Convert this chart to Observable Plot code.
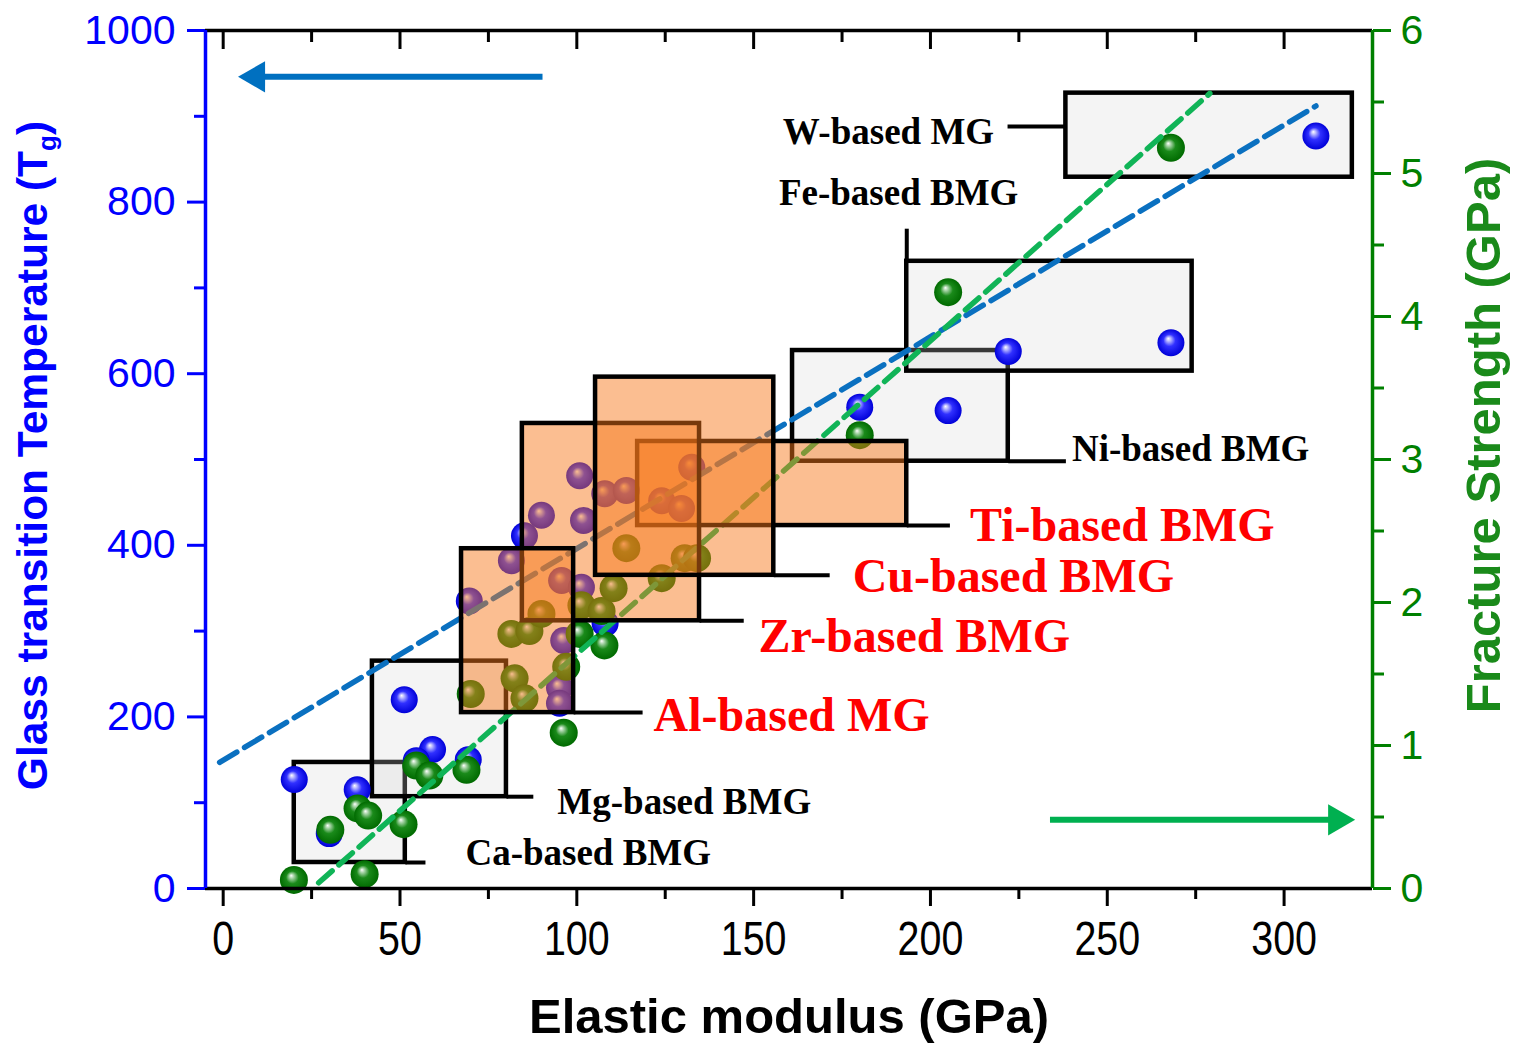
<!DOCTYPE html>
<html><head><meta charset="utf-8">
<script src="https://cdn.jsdelivr.net/npm/d3@7"></script>
<script src="https://cdn.jsdelivr.net/npm/@observablehq/plot@0.6"></script>
<style>body{margin:0;background:#fff}</style>
</head><body><div id="chart"></div>
<script>
// ---- data ----
const blueE  = [20.1, 37.9, 30.0, 51.2, 59.2, 54.6, 69.3, 69.6, 81.5, 85.2, 90.0, 100.8, 101.9, 107.9, 114.0, 132.5, 124.0, 129.6, 95.7, 101.3, 108.0, 96.3, 95.1, 95.1, 180, 205, 222, 268, 309];
const blueTg = [127, 115, 64, 220, 162, 149, 150, 335, 382, 411, 435, 481, 429, 460, 464, 491, 452, 443, 359, 351, 309, 289, 234, 216, 561, 557, 626, 636, 877];
const greenE  = [20, 40, 30.3, 38, 41, 51, 54.6, 58.3, 68.8, 70, 81.5, 86.6, 90, 82.4, 85.2, 97, 96.3, 100.8, 101.3, 107, 107.8, 110.4, 114, 124, 130.5, 134, 180, 205, 268];
const greenFS = [0.06, 0.10, 0.41, 0.56, 0.51, 0.45, 0.86, 0.79, 0.83, 1.36, 1.78, 1.80, 1.92, 1.47, 1.33, 1.55, 1.09, 1.78, 1.98, 1.94, 1.70, 2.10, 2.38, 2.17, 2.31, 2.31, 3.17, 4.17, 5.18];
const blueTrendE = [-1, 309], blueTrendTg = [147, 912];
const greenTrendE = [27, 279], greenTrendFS = [0.04, 5.56];

const greyBoxes = [
  {name: "Ca", x1: 20.1, x2: 51.5, y1: 30.3, y2: 146.9},
  {name: "Mg", x1: 42.2, x2: 80.1, y1: 107, y2: 265},
  {name: "Ni", x1: 161, x2: 222, y1: 498, y2: 627},
  {name: "Fe", x1: 193.3, x2: 274, y1: 603, y2: 731},
  {name: "W",  x1: 238.3, x2: 319.3, y1: 829, y2: 927}
];
const orangeBoxes = [
  {name: "Ti", x1: 117.2, x2: 193.3, y1: 423, y2: 521},
  {name: "Zr", x1: 84.6, x2: 134.7, y1: 312, y2: 542},
  {name: "Al", x1: 67.4, x2: 99.1, y1: 205, y2: 396},
  {name: "Cu", x1: 105.3, x2: 155.7, y1: 365, y2: 596}
];
const leaders = [
  {x1: 221.8, x2: 238.3, y1: 888, y2: 888},
  {x1: 193.3, x2: 193.3, y1: 769, y2: 731},
  {x1: 222, x2: 238.3, y1: 498, y2: 498},
  {x1: 193.3, x2: 205.5, y1: 423, y2: 423},
  {x1: 155.7, x2: 171.5, y1: 365, y2: 365},
  {x1: 134.7, x2: 147.2, y1: 312, y2: 312},
  {x1: 99.1, x2: 118.6, y1: 205, y2: 205},
  {x1: 80.1, x2: 87.7, y1: 107, y2: 107},
  {x1: 51.5, x2: 57.2, y1: 30.3, y2: 30.3}
];
const labelsEnd = [{text: "W-based MG", x: 218, y: 882}];
const labelsMiddle = [{text: "Fe-based BMG", x: 191, y: 810}];
const labelsStart = [
  {text: "Ni-based BMG", x: 240, y: 512},
  {text: "Mg-based BMG", x: 94.5, y: 101},
  {text: "Ca-based BMG", x: 68.5, y: 41}
];
const redLabels = [
  {text: "Ti-based BMG", x: 211.2, y: 423},
  {text: "Cu-based BMG", x: 178, y: 364},
  {text: "Zr-based BMG", x: 151.4, y: 294},
  {text: "Al-based MG", x: 121.7, y: 202}
];
const blueArrow = {x1: 90.3, x2: 10.8, head: 9.3, y: 946};
const greenArrow = {x1: 233.8, x2: 313.6, head: 315.0, fs: 0.48};

const xTicks = [0, 50, 100, 150, 200, 250, 300];
const xMinor = [25, 75, 125, 175, 225, 275];
const yTicks = [0, 200, 400, 600, 800, 1000];
const yMinor = [100, 300, 500, 700, 900];
const fsTicks = [0, 1, 2, 3, 4, 5, 6];
const fsMinor = [0.5, 1.5, 2.5, 3.5, 4.5, 5.5];

// ---- build ----
const K = 1000 / 6; // fracture strength -> left-axis units
const blue = blueE.map((e, i) => ({e, v: blueTg[i]}));
const green = greenE.map((e, i) => ({e, v: greenFS[i] * K}));
const blueTrend = blueTrendE.map((e, i) => ({e, v: blueTrendTg[i]}));
const greenTrend = greenTrendE.map((e, i) => ({e, v: greenTrendFS[i] * K}));

const sans = "Liberation Sans, Arial, sans-serif";
const serif = "Liberation Serif, Times New Roman, serif";
const BLUE = "#0000ff", GREEN = "#008000";
const lbl = {x: "x", y: "y", text: "text", fill: "#000", fontSize: 37, fontWeight: "bold", fontFamily: serif};

const chart = Plot.plot({
  width: 1519, height: 1046,
  marginLeft: 205, marginRight: 147, marginTop: 30, marginBottom: 158,
  x: {domain: [-5, 325]},
  y: {domain: [0, 1000]},
  marks: [
    Plot.rect(greyBoxes, {x1: "x1", x2: "x2", y1: "y1", y2: "y2", fill: "#d4d4d4", fillOpacity: 0.26, stroke: "#000", strokeWidth: 4.5}),
    Plot.dot(blue, {x: "e", y: "v", r: 13.5, fill: "url(#gBlue)"}),
    Plot.dot(green, {x: "e", y: "v", r: 14, fill: "url(#gGreen)"}),
    Plot.line(blueTrend, {x: "e", y: "v", stroke: "#0a70c0", strokeWidth: 5.5, strokeDasharray: "20,9"}),
    Plot.line(greenTrend, {x: "e", y: "v", stroke: "#10b457", strokeWidth: 5.5, strokeDasharray: "18,9"}),
    Plot.rect(orangeBoxes, {x1: "x1", x2: "x2", y1: "y1", y2: "y2", fill: "#f7771a", fillOpacity: 0.48, stroke: "#000", strokeWidth: 4.5}),
    Plot.link(leaders, {x1: "x1", x2: "x2", y1: "y1", y2: "y2", stroke: "#000", strokeWidth: 4}),
    Plot.text(labelsEnd, {...lbl, textAnchor: "end"}),
    Plot.text(labelsMiddle, {...lbl, textAnchor: "middle"}),
    Plot.text(labelsStart, {...lbl, textAnchor: "start"}),
    Plot.text(redLabels, {...lbl, textAnchor: "start", fill: "#ff0000", fontSize: 48}),
    // arrows
    Plot.link([blueArrow], {x1: "x1", x2: "x2", y1: "y", y2: "y", stroke: "#0070c0", strokeWidth: 6}),
    Plot.dot([blueArrow], {x: "head", y: "y", symbol: "triangle", r: 11.6, rotate: -90, fill: "#0070c0"}),
    Plot.link([greenArrow], {x1: "x1", x2: "x2", y1: d => d.fs * K, y2: d => d.fs * K, stroke: "#00b050", strokeWidth: 6}),
    Plot.dot([greenArrow], {x: "head", y: d => d.fs * K, symbol: "triangle", r: 11.6, rotate: 90, fill: "#00b050"}),
    // axes
    Plot.axisY(yTicks, {anchor: "left", tickSize: 18, tickPadding: 12, tickFormat: d => String(d), color: BLUE, strokeWidth: 3, fontSize: 41, fontFamily: sans, label: null}),
    Plot.axisY(yMinor, {anchor: "left", tickSize: 11, tickFormat: () => "", color: BLUE, strokeWidth: 3, label: null}),
    Plot.axisY(fsTicks.map(v => v * K), {anchor: "right", tickSize: 18, tickPadding: 10, tickFormat: d => String(Math.round(d / K)), color: GREEN, strokeWidth: 3, fontSize: 41, fontFamily: sans, label: null}),
    Plot.axisY(fsMinor.map(v => v * K), {anchor: "right", tickSize: 11, tickFormat: () => "", color: GREEN, strokeWidth: 3, label: null}),
    Plot.axisX(xTicks, {anchor: "bottom", tickSize: 18, tickPadding: 14, color: "#000", strokeWidth: 3, fontSize: 48, fontFamily: sans, label: null}),
    Plot.axisX(xMinor, {anchor: "bottom", tickSize: 11, tickFormat: () => "", color: "#000", strokeWidth: 3, label: null}),
    Plot.axisX(xTicks, {anchor: "top", tickSize: -18, tickFormat: () => "", color: "#000", strokeWidth: 3, label: null}),
    Plot.axisX(xMinor, {anchor: "top", tickSize: -11, tickFormat: () => "", color: "#000", strokeWidth: 3, label: null}),
    Plot.ruleY([0], {stroke: "#000", strokeWidth: 3.5}),
    Plot.ruleY([1000], {stroke: "#000", strokeWidth: 3.5}),
    Plot.ruleX([-5], {stroke: BLUE, strokeWidth: 3.5}),
    Plot.ruleX([325], {stroke: GREEN, strokeWidth: 3.5}),
    // axis titles
    Plot.text(["Glass transition Temperature (Tg)"], {frameAnchor: "left", textAnchor: "middle", lineAnchor: "middle", dx: -172, dy: -4, rotate: -90, fill: BLUE, fontSize: 42.5, fontWeight: "bold", fontFamily: sans}),
    Plot.text(["Fracture Strength (GPa)"], {frameAnchor: "right", textAnchor: "middle", lineAnchor: "middle", dx: 112, dy: -24, rotate: -90, fill: "#1a8a1a", fontSize: 49, fontWeight: "bold", fontFamily: sans}),
    Plot.text(["Elastic modulus (GPa)"], {frameAnchor: "bottom", textAnchor: "middle", lineAnchor: "middle", dy: 129, fill: "#000", fontSize: 49, fontWeight: "bold", fontFamily: sans})
  ]
});

// gradients for the sphere-like markers
const ns = "http://www.w3.org/2000/svg";
const defs = document.createElementNS(ns, "defs");
defs.innerHTML = `
<radialGradient id="gBlue" cx="50%" cy="50%" r="50%" fx="40%" fy="34%">
  <stop offset="0%" stop-color="#ffffff"/>
  <stop offset="16%" stop-color="#b8b8ff"/>
  <stop offset="45%" stop-color="#3030ff"/>
  <stop offset="100%" stop-color="#0000d8"/>
</radialGradient>
<radialGradient id="gGreen" cx="50%" cy="50%" r="50%" fx="40%" fy="34%">
  <stop offset="0%" stop-color="#ffffff"/>
  <stop offset="16%" stop-color="#a8d4a8"/>
  <stop offset="45%" stop-color="#1a8a1a"/>
  <stop offset="100%" stop-color="#006a00"/>
</radialGradient>`;
chart.insertBefore(defs, chart.firstChild);

// subscript g in the left title
chart.querySelectorAll("text").forEach(t => {
  if (t.textContent === "Glass transition Temperature (Tg)") {
    t.textContent = "";
    const a = document.createElementNS(ns, "tspan"); a.textContent = "Glass transition Temperature (T";
    const b = document.createElementNS(ns, "tspan"); b.textContent = "g"; b.setAttribute("font-size", "26"); b.setAttribute("dy", "9");
    const c = document.createElementNS(ns, "tspan"); c.textContent = ")"; c.setAttribute("dy", "-9");
    t.append(a, b, c);
  }
});

document.getElementById("chart").append(chart);

// condense the bottom tick labels (the original uses a narrow face)
chart.querySelectorAll("g[aria-label='x-axis tick label'] text").forEach(t => {
  const len = t.getComputedTextLength();
  if (len > 0) {
    t.setAttribute("textLength", (len * 0.82).toFixed(1));
    t.setAttribute("lengthAdjust", "spacingAndGlyphs");
  }
});
</script>
</body></html>
